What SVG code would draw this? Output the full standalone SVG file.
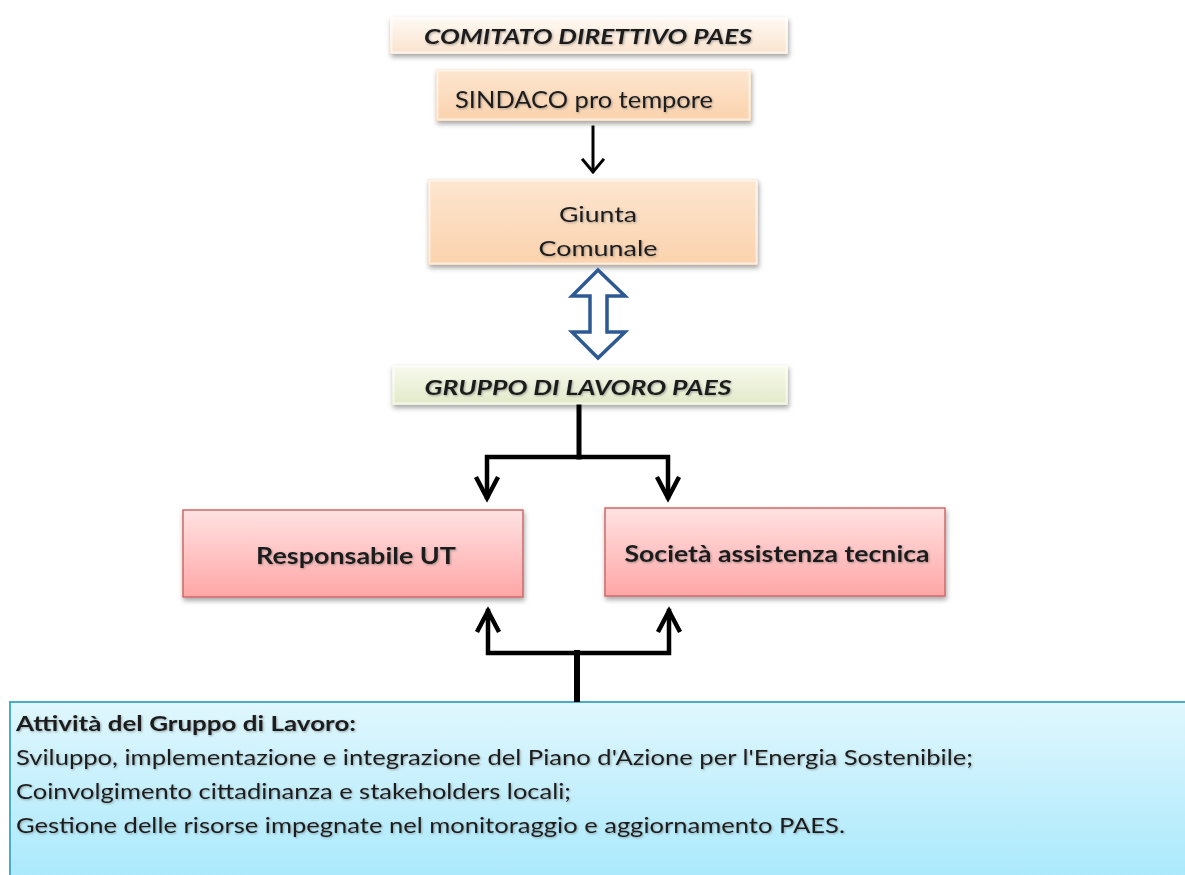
<svg xmlns="http://www.w3.org/2000/svg" width="1185" height="875" viewBox="0 0 1185 875">
<defs>
<linearGradient id="gComitato" x1="0" y1="0" x2="0" y2="1"><stop offset="0" stop-color="#fffaf4"/><stop offset="1" stop-color="#f9e2cd"/></linearGradient>
<linearGradient id="gPeach" x1="0" y1="0" x2="0" y2="1"><stop offset="0" stop-color="#fde6d0"/><stop offset="1" stop-color="#fbd2ad"/></linearGradient>
<linearGradient id="gGreen" x1="0" y1="0" x2="0" y2="1"><stop offset="0" stop-color="#f8faee"/><stop offset="1" stop-color="#e1e9c8"/></linearGradient>
<linearGradient id="gRed" x1="0" y1="0" x2="0" y2="1"><stop offset="0" stop-color="#ffe2e2"/><stop offset="1" stop-color="#ffa6a6"/></linearGradient>
<linearGradient id="gBlue" x1="0" y1="0" x2="0" y2="1"><stop offset="0" stop-color="#e0f7fd"/><stop offset="1" stop-color="#a3e7fc"/></linearGradient>
<filter id="shadow" x="-10%" y="-20%" width="120%" height="150%"><feDropShadow dx="1" dy="3" stdDeviation="2.5" flood-color="#000" flood-opacity="0.35"/></filter>
<filter id="tshadow" x="-5%" y="-30%" width="110%" height="160%"><feDropShadow dx="1" dy="1" stdDeviation="0.8" flood-color="#555" flood-opacity="0.5"/></filter>
<style>
.bevel{stroke:#ffffff;stroke-opacity:0.6;stroke-width:2}
.t{font-family:Lato,"Liberation Sans",sans-serif;fill:#1e1e1e;filter:url(#tshadow)}
.bi{font-weight:bold;font-style:italic}
.b{font-weight:bold}
.conn{fill:none;stroke:#000;stroke-linecap:square;stroke-linejoin:miter}
</style>
</defs>
<rect width="1185" height="875" fill="#ffffff"/>

<g id="node-comitato">
<rect x="390" y="17" width="398" height="37" fill="url(#gComitato)" filter="url(#shadow)"/>
<rect x="391.5" y="18.5" width="395" height="34" fill="none" class="bevel"/>
<text class="t bi" x="588" y="44" font-size="21" text-anchor="middle" textLength="328" lengthAdjust="spacingAndGlyphs">COMITATO DIRETTIVO PAES</text>
</g>

<g id="node-sindaco">
<rect x="436" y="69" width="315" height="52" fill="url(#gPeach)" filter="url(#shadow)"/>
<rect x="437.5" y="70.5" width="312" height="49" fill="none" class="bevel"/>
<text class="t" x="584" y="108" font-size="23" text-anchor="middle" textLength="258" lengthAdjust="spacingAndGlyphs">SINDACO pro tempore</text>
</g>

<g id="node-giunta">
<rect x="428" y="179" width="330" height="86" fill="url(#gPeach)" filter="url(#shadow)"/>
<rect x="429.5" y="180.5" width="327" height="83" fill="none" class="bevel"/>
<text class="t" x="598" y="222" font-size="22" text-anchor="middle" textLength="78" lengthAdjust="spacingAndGlyphs">Giunta</text>
<text class="t" x="598" y="256" font-size="22" text-anchor="middle" textLength="119" lengthAdjust="spacingAndGlyphs">Comunale</text>
</g>

<g id="node-gruppo">
<rect x="392" y="365" width="396" height="40" fill="url(#gGreen)" filter="url(#shadow)"/>
<rect x="393.5" y="366.5" width="393" height="37" fill="none" class="bevel"/>
<text class="t bi" x="578" y="395" font-size="21" text-anchor="middle" textLength="307" lengthAdjust="spacingAndGlyphs">GRUPPO DI LAVORO PAES</text>
</g>

<g id="node-responsabile">
<rect x="183" y="510" width="340" height="87" fill="url(#gRed)" stroke="#d06a68" stroke-width="1.5" filter="url(#shadow)"/>
<text class="t b" x="356" y="564" font-size="22" text-anchor="middle" textLength="200" lengthAdjust="spacingAndGlyphs">Responsabile UT</text>
</g>

<g id="node-societa">
<rect x="605" y="508" width="340" height="88" fill="url(#gRed)" stroke="#d06a68" stroke-width="1.5" filter="url(#shadow)"/>
<text class="t b" x="777" y="562" font-size="22" text-anchor="middle" textLength="305" lengthAdjust="spacingAndGlyphs">Società assistenza tecnica</text>
</g>

<g id="node-attivita">
<rect x="10" y="702" width="1190" height="200" fill="url(#gBlue)" stroke="#4bacc6" stroke-width="2"/>
<text class="t b" x="16" y="731" font-size="21" textLength="340" lengthAdjust="spacingAndGlyphs">Attività del Gruppo di Lavoro:</text>
<text class="t" x="16" y="765" font-size="21" textLength="957" lengthAdjust="spacingAndGlyphs">Sviluppo,  implementazione  e integrazione del Piano d'Azione per l'Energia Sostenibile;</text>
<text class="t" x="16" y="799" font-size="21" textLength="555" lengthAdjust="spacingAndGlyphs">Coinvolgimento cittadinanza e stakeholders locali;</text>
<text class="t" x="16" y="833" font-size="21" textLength="829" lengthAdjust="spacingAndGlyphs">Gestione delle risorse impegnate nel monitoraggio e aggiornamento PAES.</text>
</g>

<g id="connectors">
<line class="conn" x1="593" y1="127" x2="593" y2="171" stroke-width="3"/>
<polyline class="conn" points="583,160 593,172 603,160" stroke-width="3"/>
<path d="M598,270 L625,296 L607,296 L607,332 L625,332 L598,358 L572,332 L590,332 L590,296 L572,296 Z" fill="#ffffff" stroke="#2e5a94" stroke-width="3.5" stroke-linejoin="miter"/>
<polyline class="conn" points="579,407 579,457" stroke-width="5"/>
<polyline class="conn" points="487,497 487,457 668,457 668,497" stroke-width="4.5"/>
<polyline class="conn" points="477,479 487,498 497,479" stroke-width="4.5"/>
<polyline class="conn" points="658,479 668,498 678,479" stroke-width="4.5"/>
<polyline class="conn" points="577,699 577,653" stroke-width="6"/>
<polyline class="conn" points="488,611 488,653 669,653 669,611" stroke-width="4.5"/>
<polyline class="conn" points="478,630 488,611 498,630" stroke-width="4.5"/>
<polyline class="conn" points="659,630 669,611 679,630" stroke-width="4.5"/>
</g>
</svg>
